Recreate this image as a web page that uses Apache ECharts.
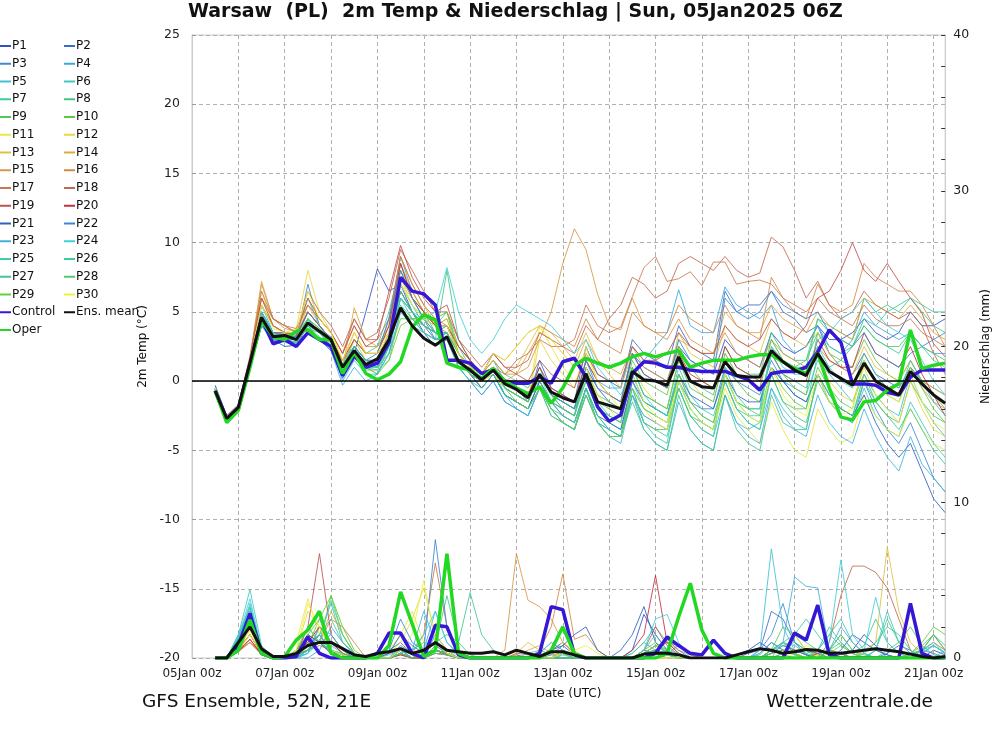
<!DOCTYPE html>
<html><head><meta charset="utf-8">
<script src="https://cdn.jsdelivr.net/npm/echarts@6/dist/echarts.min.js"></script>
<style>html,body{margin:0;padding:0;background:#fff}#c{width:1000px;height:729px}</style>
</head><body><div id="c"></div>
<script>
// ---- tick labels / categories ----
const tickLabels = ['05Jan 00z','07Jan 00z','09Jan 00z','11Jan 00z','13Jan 00z','15Jan 00z','17Jan 00z','19Jan 00z','21Jan 00z'];
// forecast steps: hours after 05Jan 00z, 6-hourly from 05Jan 12z
const hours = Array.from({length: 64}, (_, i) => 12 + 6 * i);

const memberColors = ['#3050c8','#3a6cc8','#3a8ad8','#3aa8e0','#40c0d8','#40c8c0','#40c8a0','#40c880','#50c860','#60c840',
  '#e8e840','#e8d840','#e0c040','#e0a840','#d89848','#d08848','#c87850','#c06850','#c05050','#c03040',
  '#3060c0','#3888d0','#40b0e0','#40d0d8','#40c8b0','#40c8a0','#40c890','#50c870','#60d040','#f0f040'];

// ---- 2m temperature (°C) ----
const tMean = [-0.7,-2.7,-1.9,1.3, 4.6,3.2,3.3,3.0, 4.2,3.6,3.0,1.0, 2.2,1.2,1.6,3.0, 5.3,4.0,3.1,2.6, 3.2,1.4,0.8,0.1, 0.8,-0.2,-0.6,-1.2, 0.5,-0.8,-1.2,-1.5, 0.55,-1.5,-1.75,-2.0, 0.7,0.1,0.0,-0.3, 1.75,0.0,-0.4,-0.5, 1.4,0.4,0.3,0.3, 2.2,1.4,0.8,0.4, 2.0,0.7,0.2,-0.3, 1.3,0.0,-0.5,-1.0, 0.7,-0.2,-1.0,-1.6];
const tControl = [-0.7,-2.8,-2.0,1.2, 4.5,2.7,3.0,2.5, 3.5,3.0,2.5,0.4, 1.8,1.0,1.3,2.8, 7.5,6.5,6.3,5.5, 1.5,1.5,1.3,0.55, 0.8,0.0,-0.15,-0.15, 0.3,-0.15,1.4,1.65, 0.3,-1.85,-2.9,-2.45, 0.55,1.4,1.3,1.0, 1.0,0.8,0.7,0.7, 0.7,0.4,0.1,-0.65, 0.55,0.7,0.7,1.0, 2.1,3.7,2.8,-0.2, -0.2,-0.3,-0.8,-1.0, 0.3,0.8,0.8,0.8];
const tOper = [-0.7,-3.0,-2.1,1.0, 4.4,3.2,3.0,3.6, 3.7,3.0,3.0,0.55, 2.1,0.55,0.1,0.5, 1.4,3.9,4.8,4.4, 1.3,1.0,0.8,0.2, 0.9,0.0,-0.5,-0.9, -0.4,-1.6,-0.5,1.15, 1.65,1.3,1.0,1.3, 1.75,2.0,1.75,2.0, 2.2,1.0,1.3,1.5, 1.5,1.5,1.75,1.9, 1.9,1.4,0.9,0.55, 2.0,-0.5,-2.6,-2.8, -1.5,-1.4,-0.65,-0.2, 3.7,0.9,1.15,1.3];
const tP1 = [-0.3,-2.5,-1.8,1.5, 4.5,3.0,2.5,2.6, 4.0,3.0,2.2,0.2, 2.0,5.0,8.1,6.5, 7.0,5.0,3.5,2.5, 3.0,1.5,0.5,-0.5, 0.5,-1.0,-1.5,-2.0, 0.0,-1.5,-2.0,-2.5, 1.0,-0.5,-1.5,-2.0, 2.0,1.0,0.5,0.0, 2.5,1.5,1.0,0.5, 3.0,2.0,1.5,1.0, 3.5,2.5,2.0,2.5, 4.0,3.0,3.0,3.5, 4.5,3.5,3.0,3.5, 5.0,4.0,4.0,4.5];
const tP2 = [-0.8,-2.9,-2.0,1.0, 4.0,3.0,3.0,2.8, 4.5,3.5,2.5,0.5, 2.5,1.5,1.0,3.0, 6.5,5.0,4.0,3.0, 3.5,2.0,1.0,0.0, 1.0,0.0,-0.5,-1.5, 1.5,-0.5,-1.0,-1.5, 2.5,0.5,0.0,-0.5, 3.0,2.0,1.5,1.0, 4.0,2.5,2.0,1.5, 6.5,5.0,5.5,5.5, 6.5,5.0,4.5,3.5, 4.0,2.0,1.0,0.5, 2.0,0.5,0.0,-0.5, 1.0,0.0,-0.5,-1.0];
const tP3 = [-0.6,-2.6,-1.8,1.4, 5.0,3.5,3.2,3.0, 7.0,4.0,3.0,0.8, 2.0,1.0,1.5,3.5, 8.0,6.0,4.5,3.0, 3.0,1.0,0.0,-1.0, 0.0,-1.5,-2.0,-2.5, -0.5,-2.0,-3.0,-3.5, -1.0,-3.0,-3.5,-4.0, -1.0,-2.5,-3.0,-3.5, 0.0,-1.5,-2.0,-2.0, 1.0,0.0,-0.5,-1.0, 1.5,0.0,-1.0,-1.5, 0.5,-1.5,-2.5,-3.0, 0.0,-2.0,-3.5,-4.5, -3.0,-5.0,-7.0,-8.0];
const tP4 = [-0.4,-2.5,-1.7,1.6, 5.5,3.5,3.4,3.2, 6.0,4.0,3.0,1.2, 3.0,2.0,2.0,4.5, 9.0,6.5,5.0,3.5, 4.0,2.0,1.0,0.5, 1.5,0.0,-0.5,-1.0, 1.0,-1.0,-1.5,-2.0, 1.5,0.0,-0.5,-0.5, 2.5,1.5,2.5,3.5, 6.6,4.0,3.5,3.5, 6.8,5.5,5.0,4.5, 5.5,3.0,2.0,2.5, 4.0,2.5,2.0,3.0, 5.0,4.0,3.5,3.0, 3.5,2.5,2.0,2.0];
const tP5 = [-0.9,-3.0,-2.2,0.9, 4.0,2.8,3.0,2.8, 3.5,3.0,2.5,0.0, 1.5,0.5,0.5,2.0, 6.0,5.0,4.0,3.5, 4.0,2.0,1.0,0.0, 1.0,-1.0,-2.0,-2.5, -0.5,-2.5,-3.0,-3.5, -0.5,-3.0,-3.5,-4.0, 0.0,-2.0,-2.5,-3.0, -0.5,-2.5,-3.5,-4.0, -1.0,-3.0,-3.5,-3.0, 1.0,0.0,-0.5,-1.0, 1.5,0.5,-0.5,-1.5, 0.5,-1.0,-2.0,-2.5, 0.5,-1.5,-3.0,-4.0];
const tP6 = [-0.5,-2.6,-1.9,1.2, 5.5,4.0,3.5,3.4, 4.5,3.8,3.2,1.5, 2.5,1.5,1.2,3.0, 7.0,5.5,4.5,3.5, 3.5,1.5,0.5,0.0, 1.0,-0.5,-1.0,-1.5, 0.5,-1.0,-1.5,-2.0, 0.5,-2.0,-2.5,-3.0, 0.5,-1.5,-2.0,-2.5, 1.0,-1.0,-2.0,-2.5, 0.0,-2.0,-3.0,-3.5, -0.5,-2.0,-3.0,-3.5, 0.5,-1.5,-2.5,-3.0, -0.5,-2.5,-3.5,-4.0, -1.5,-3.0,-4.5,-5.5];
const tP7 = [-0.7,-2.8,-2.0,1.1, 4.8,3.5,3.0,3.2, 5.0,4.0,3.0,1.0, 3.0,2.0,2.5,5.0, 8.5,6.0,4.5,4.0, 5.0,2.5,1.0,0.5, 1.5,0.5,0.0,-0.5, 1.0,-1.0,-1.5,-2.0, 0.0,-2.0,-3.0,-3.5, -0.5,-3.0,-3.5,-4.0, -0.5,-2.5,-3.5,-4.0, 0.5,-1.5,-2.0,-2.0, 2.5,1.5,1.0,1.5, 3.5,2.5,2.0,2.5, 4.0,3.0,2.5,2.0, 3.5,2.5,1.5,1.0];
const tP8 = [-0.6,-2.7,-1.9,1.3, 4.2,3.0,3.3,3.0, 3.8,3.5,3.0,1.5, 2.5,1.0,0.5,2.5, 5.5,4.5,3.5,3.0, 8.0,3.0,1.5,0.5, 1.0,0.0,-0.5,-1.0, 0.5,-1.0,-2.0,-2.5, 0.5,-1.5,-2.5,-3.0, 1.0,-1.0,-1.5,-2.0, 1.5,0.0,-0.5,-1.0, 2.5,1.0,0.5,0.5, 3.5,2.0,1.5,1.5, 4.5,4.0,3.5,3.0, 6.0,5.0,5.5,5.0, 6.0,5.0,4.0,3.5];
const tP9 = [-0.8,-2.9,-2.1,1.0, 4.4,3.2,3.0,2.7, 4.2,3.5,2.8,1.0, 2.2,1.2,1.0,2.0, 4.5,4.5,4.0,3.5, 3.0,1.5,0.5,0.0, 0.5,-1.0,-1.5,-2.0, -0.5,-2.5,-3.0,-3.5, -0.5,-3.0,-4.0,-4.0, -1.0,-3.0,-3.5,-3.5, -0.5,-2.5,-3.0,-3.5, 0.0,-2.0,-2.5,-3.0, 0.5,-1.5,-2.5,-3.0, 0.0,-1.5,-2.0,-2.5, 0.5,-1.5,-2.5,-3.0, 0.0,-1.5,-2.5,-3.0];
const tP10 = [-0.7,-2.8,-2.0,1.2, 4.6,3.3,3.2,3.1, 4.0,3.0,2.8,1.2, 2.0,1.0,0.8,1.5, 5.0,4.5,4.5,4.0, 4.5,2.0,1.0,0.0, 1.0,-0.5,-1.0,-1.5, 0.5,-1.0,-1.5,-2.0, 1.0,-1.0,-1.5,-2.0, 1.5,0.0,-0.5,-1.0, 2.5,1.0,0.0,-0.5, 1.5,0.0,-1.0,-1.5, 2.0,0.5,-0.5,-1.0, 3.5,2.0,1.5,1.0, 3.0,1.5,0.5,0.0, 1.5,0.0,-1.0,-2.0];
const tP11 = [-0.5,-2.6,-1.8,1.5, 6.0,4.0,3.5,3.5, 6.0,4.5,3.5,1.5, 3.0,2.0,2.0,4.0, 7.5,5.5,4.5,3.5, 3.0,1.5,0.5,0.0, 0.5,-0.5,-1.0,-1.5, 4.0,2.5,1.0,0.0, 1.0,-1.0,-2.0,-3.0, -0.5,-2.0,-3.0,-3.5, 0.0,-2.0,-3.0,-3.5, -0.5,-2.5,-3.5,-4.5, -1.5,-3.5,-5.0,-5.5, -2.0,-3.5,-4.5,-4.0, -1.0,-2.5,-3.5,-4.0, -2.0,-3.5,-4.5,-5.0];
const tP12 = [-0.6,-2.7,-1.9,1.4, 6.5,4.0,3.5,3.8, 8.0,5.0,3.5,1.5, 3.5,2.0,2.0,4.0, 7.0,6.0,5.0,4.5, 5.0,2.0,0.5,-0.5, 0.5,-0.5,-1.0,-1.5, 3.0,1.5,0.5,-0.5, 2.5,0.0,-1.0,-1.5, 1.0,-0.5,-1.5,-2.0, 1.5,0.0,-1.0,-1.5, 2.0,0.5,0.0,-0.5, 3.0,1.5,1.0,0.5, 2.0,0.0,-1.0,-1.5, 1.0,-1.0,-2.0,-3.0, 0.0,-2.0,-3.5,-4.0];
const tP13 = [-0.7,-2.8,-2.0,1.0, 5.0,3.5,3.2,3.0, 5.5,4.0,3.0,1.0, 3.0,1.5,1.5,3.5, 8.0,6.5,5.0,4.0, 4.5,2.5,1.5,0.5, 1.5,0.5,1.0,2.5, 4.0,3.5,2.5,1.5, 3.5,1.5,0.5,-0.5, 2.0,0.5,0.0,-0.5, 3.5,2.0,1.5,1.0, 4.0,3.0,2.5,2.0, 4.5,3.5,3.0,2.5, 3.5,2.0,1.0,0.5, 2.5,1.0,0.5,0.0, 1.5,0.0,-0.5,-1.0];
const tP14 = [-0.5,-2.6,-1.8,1.7, 7.2,4.5,4.0,3.5, 5.0,4.0,3.0,1.0, 5.3,3.0,2.5,4.0, 9.0,7.0,5.5,4.0, 4.0,2.0,1.0,0.0, 1.0,0.0,0.5,2.0, 3.5,3.0,2.0,1.0, 3.0,1.5,1.0,0.5, 2.5,1.0,0.5,0.0, 3.0,2.5,2.0,2.0, 5.0,4.0,3.5,3.5, 5.5,4.5,4.0,3.5, 5.0,4.0,3.5,3.0, 6.0,5.5,5.0,4.5, 5.5,4.5,3.5,3.0];
const tP15 = [-0.6,-2.7,-1.9,1.5, 7.0,4.5,3.8,3.6, 5.5,4.5,3.5,2.0, 4.0,2.5,2.5,3.5, 8.5,6.5,5.0,4.0, 4.0,2.5,1.5,0.5, 1.5,0.5,0.5,1.0, 3.0,5.0,8.5,11.0, 9.5,6.3,4.0,3.7, 6.0,4.0,3.5,3.0, 4.5,3.0,2.5,2.0, 3.5,2.0,1.5,1.0, 3.0,2.0,1.5,1.0, 2.5,1.5,1.0,0.5, 1.5,0.0,-0.5,-1.0, 1.0,-0.5,-1.5,-2.0];
const tP16 = [-0.8,-2.9,-2.1,1.0, 5.5,4.0,3.5,3.0, 5.0,4.0,3.0,1.5, 3.5,2.0,2.0,3.0, 7.5,6.0,5.0,4.0, 3.5,2.0,1.0,0.5, 2.0,1.5,2.5,3.5, 4.0,3.5,3.0,2.5, 4.5,3.0,2.5,2.0, 5.0,4.0,3.5,3.5, 5.5,4.5,4.0,3.5, 5.5,4.0,3.5,3.0, 7.5,6.0,5.0,4.5, 7.0,5.5,5.0,5.5, 8.5,7.5,7.0,6.5, 6.5,5.5,4.0,2.5];
const tP17 = [-0.5,-2.5,-1.7,1.8, 6.5,4.5,4.0,3.8, 5.5,4.5,3.5,2.0, 4.5,3.0,3.0,4.5, 9.0,7.0,5.5,4.5, 4.0,2.0,1.0,0.5, 1.0,0.5,1.5,2.0, 3.0,2.5,2.5,3.0, 5.5,4.0,3.5,3.9, 6.1,8.2,9.0,7.2, 7.4,7.9,6.9,8.6, 8.6,7.0,7.2,7.3, 7.0,6.0,5.5,5.0, 6.0,5.0,4.5,4.0, 5.5,4.5,4.0,4.0, 4.5,3.5,3.0,2.5];
const tP18 = [-0.6,-2.7,-1.9,1.5, 6.0,4.5,4.0,3.5, 6.5,5.0,4.0,2.5, 4.5,3.0,3.5,6.0, 9.5,8.0,6.5,5.0, 5.0,3.0,2.0,1.0, 2.0,1.0,1.0,1.5, 3.5,3.0,2.5,2.0, 4.0,3.0,4.5,5.5, 7.5,7.0,6.0,6.5, 8.5,9.0,8.5,8.0, 9.0,8.0,7.5,7.8, 10.4,9.7,8.0,6.0, 7.2,5.5,4.5,5.0, 6.5,5.5,5.0,4.5, 5.0,4.0,2.0,0.5];
const tP19 = [-0.7,-2.6,-1.8,1.6, 6.0,4.0,3.5,3.5, 6.0,4.5,3.5,2.0, 4.0,2.5,3.0,6.5, 9.8,7.5,6.0,5.0, 5.5,3.0,1.5,0.5, 2.0,1.0,0.5,0.0, 1.5,0.5,0.0,-0.5, 2.0,0.5,0.0,0.0, 2.5,1.5,1.5,2.0, 3.5,2.5,2.0,2.0, 4.0,3.0,2.5,3.0, 4.5,3.5,3.0,4.0, 6.0,6.5,8.0,10.0, 8.0,7.2,8.5,7.2, 6.0,4.9,2.7,1.75];
const tP20 = [-0.6,-2.8,-2.0,1.2, 5.0,3.5,3.5,3.3, 5.0,4.0,3.0,1.5, 3.0,2.0,2.0,4.0, 8.5,6.0,5.0,4.0, 4.0,2.5,1.5,0.5, 1.0,0.0,-0.5,-1.0, 1.0,-0.5,-1.0,-1.5, 1.5,0.0,-1.0,-1.5, 2.0,0.5,0.0,-0.5, 2.0,0.5,0.0,-0.5, 2.5,1.0,0.5,0.0, 2.0,0.5,0.0,0.0, 3.0,1.5,1.0,1.0, 3.5,2.0,1.5,1.0, 2.5,0.5,-1.0,-2.5];
const tP21 = [-0.7,-2.7,-1.9,1.3, 4.5,3.2,3.0,3.0, 4.5,3.5,2.8,1.0, 2.5,1.5,1.5,3.0, 6.5,5.0,4.0,3.5, 3.5,1.5,0.5,-0.5, 0.5,-1.0,-1.5,-2.0, 0.0,-1.5,-2.5,-3.0, -0.5,-2.5,-3.0,-3.5, 0.0,-1.5,-2.0,-2.5, 0.5,-1.0,-1.5,-2.0, 0.5,-1.0,-1.5,-1.5, 1.0,0.0,-1.0,-1.5, 0.5,-1.0,-2.0,-2.5, -1.0,-3.0,-4.5,-5.5, -4.5,-6.5,-8.5,-9.5];
const tP22 = [-0.6,-2.6,-1.8,1.4, 5.0,3.5,3.3,3.2, 5.0,4.0,3.0,1.0, 2.5,1.5,2.0,4.5, 8.0,6.0,4.5,3.5, 3.0,1.5,0.5,0.0, 1.0,-0.5,-1.0,-1.5, 0.5,-1.0,-1.5,-2.0, 1.5,-0.5,-1.0,-1.5, 2.0,0.5,0.0,-0.5, 3.0,1.5,1.0,0.5, 6.0,5.0,4.5,5.0, 6.5,5.5,5.0,4.5, 5.0,3.5,3.0,2.5, 3.5,2.0,1.5,1.0, 2.0,2.5,3.0,3.5];
const tP23 = [-0.8,-3.0,-2.2,0.9, 4.0,3.0,2.8,2.6, 3.5,3.0,2.2,-0.3, 1.0,0.0,0.5,2.0, 5.0,4.0,3.5,3.0, 3.5,1.0,0.0,-1.0, 0.0,-1.5,-2.0,-2.5, -0.5,-2.0,-3.0,-3.5, -1.0,-3.0,-4.0,-4.5, -1.0,-3.5,-4.5,-5.0, -1.5,-3.5,-4.5,-5.0, -1.0,-3.0,-4.0,-4.5, -0.5,-2.5,-3.5,-4.0, -1.0,-3.0,-4.0,-4.5, -2.0,-4.0,-5.5,-6.5, -4.0,-6.0,-7.0,-8.0];
const tP24 = [-0.5,-2.6,-1.8,1.5, 5.0,3.5,3.0,2.8, 4.5,3.5,2.5,0.5, 2.0,1.0,1.0,2.5, 6.0,5.0,4.5,5.0, 8.2,5.0,3.0,2.0, 3.0,4.5,5.5,5.0, 4.5,4.0,3.0,2.0, 3.0,1.0,0.0,-1.0, 1.0,-1.0,-2.0,-2.5, 0.0,-2.0,-3.0,-3.5, 0.5,-1.5,-2.5,-2.5, 2.5,1.0,0.5,0.5, 3.0,3.5,4.5,5.0, 6.0,5.0,4.0,3.5, 3.0,1.5,0.0,-1.0];
const tP25 = [-0.7,-2.9,-2.1,1.0, 4.4,3.0,2.9,2.8, 4.0,3.2,2.5,0.5, 1.8,0.8,0.8,2.5, 6.0,4.5,3.5,3.0, 3.0,1.0,0.0,-0.5, 0.5,-1.0,-1.5,-2.0, -0.5,-2.0,-2.5,-3.0, -0.5,-2.5,-3.5,-4.0, -0.5,-3.0,-4.0,-4.5, 0.0,-2.0,-3.0,-3.5, 1.0,-1.0,-2.0,-2.0, 2.0,0.5,0.0,-0.5, 2.5,1.0,0.0,-0.5, 2.0,0.5,-0.5,-1.0, 1.5,0.0,-1.5,-2.5];
const tP26 = [-0.6,-2.7,-1.9,1.3, 4.8,3.4,3.2,3.0, 4.5,3.5,3.0,1.2, 2.5,1.5,1.5,3.0, 7.0,5.5,4.0,3.5, 3.5,1.5,0.5,0.0, 1.0,-0.5,-1.0,-1.5, 0.5,-1.5,-2.0,-2.5, 0.0,-2.0,-2.5,-3.0, 0.5,-1.5,-2.0,-2.5, 0.5,-1.5,-2.5,-3.0, 0.0,-2.0,-3.0,-3.5, 0.5,-1.5,-2.0,-2.0, 2.0,1.0,1.5,2.5, 4.5,4.0,5.0,5.5, 6.0,5.5,5.0,5.0];
const tP27 = [-0.8,-2.8,-2.0,1.1, 4.5,3.2,3.0,3.0, 4.0,3.5,3.0,1.0, 2.0,1.0,1.0,2.5, 6.0,5.0,4.0,3.5, 3.5,2.0,1.0,0.0, 1.0,0.0,-0.5,-1.0, 0.0,-1.5,-2.5,-3.0, -0.5,-2.5,-3.5,-4.0, -1.5,-3.5,-4.5,-5.0, -1.0,-3.5,-4.5,-5.0, -1.0,-3.5,-4.5,-5.0, -1.0,-3.0,-3.5,-3.5, 0.5,-1.0,-2.0,-2.5, 0.0,-1.5,-2.5,-3.5, -2.0,-3.5,-5.0,-6.0];
const tP28 = [-0.7,-2.7,-1.9,1.2, 4.5,3.3,3.1,3.0, 4.3,3.5,2.8,1.2, 2.2,1.2,1.2,2.8, 6.5,5.0,4.0,3.5, 3.5,1.5,0.5,0.0, 1.0,-0.5,-1.0,-1.5, 0.5,-1.0,-2.0,-2.5, 0.5,-1.5,-2.0,-2.5, 1.0,-1.0,-1.5,-2.0, 1.5,-0.5,-1.0,-1.5, 2.0,0.5,0.0,-0.5, 3.0,1.5,1.0,1.0, 4.5,3.5,3.0,2.5, 4.0,3.0,2.5,2.5, 3.5,2.5,2.0,1.5];
const tP29 = [-0.6,-2.8,-2.0,1.2, 4.7,3.3,3.2,3.1, 4.5,3.8,3.0,1.0, 2.0,1.0,0.5,1.5, 4.0,4.5,4.5,4.5, 5.0,2.0,1.0,0.5, 1.0,-0.5,-1.5,-2.0, -0.5,-2.0,-3.0,-3.5, -1.0,-3.0,-4.0,-4.0, -0.5,-2.0,-2.5,-3.0, 0.5,-1.5,-2.5,-3.0, 0.5,-1.5,-2.0,-2.5, 1.0,-0.5,-1.5,-2.0, 1.0,-0.5,-1.5,-2.0, 1.5,0.0,-1.0,-1.5, 1.0,-0.5,-2.0,-3.0];
const tP30 = [-0.5,-2.6,-1.8,1.5, 5.5,3.8,3.5,3.5, 6.5,4.5,3.5,1.5, 3.5,2.0,2.0,3.5, 7.0,5.5,4.5,4.0, 4.0,2.0,1.0,0.5, 2.0,1.5,2.5,3.5, 4.0,3.0,2.0,1.0, 2.0,0.0,-1.0,-2.0, 0.5,-1.5,-2.5,-3.0, 0.0,-2.0,-3.0,-3.5, 0.5,-1.5,-2.5,-3.0, 1.0,-1.0,-2.0,-2.5, 0.5,-1.5,-2.5,-2.0, 1.5,0.0,-1.0,-1.5, 0.5,-1.5,-3.0,-3.5];

// ---- precipitation (mm) ----
const pMean = [0,0,1.0,2.0, 0.6,0.1,0.1,0.3, 0.8,1.0,1.0,0.6, 0.2,0.1,0.3,0.4, 0.6,0.3,0.5,1.0, 0.5,0.4,0.3,0.3, 0.4,0.2,0.5,0.3, 0.1,0.4,0.4,0.2, 0,0,0,0, 0,0.25,0.3,0.3, 0.2,0,0,0, 0,0.2,0.4,0.6, 0.5,0.3,0.4,0.55, 0.5,0.3,0.3,0.4, 0.5,0.6,0.5,0.4, 0.25,0.1,0,0.1];
const pControl = [0,0,0.8,2.85, 0.3,0,0,0.1, 1.35,0.3,0,0, 0,0,0.3,1.6, 1.6,0.3,0,2.1, 2.0,0.2,0,0, 0,0,0,0, 0.3,3.3,3.1,0.2, 0,0,0,0, 0,0,0.3,1.35, 0.8,0.3,0.2,1.15, 0.3,0,0,0, 0,0,1.6,1.15, 3.4,0.2,0,0, 0,0,0,0, 3.5,0.3,0,0];
const pOper = [0,0,0.5,2.45, 0.3,0,0.1,1.15, 1.8,3.0,0.3,0, 0,0,0,0.8, 4.25,2.2,0.1,0.5, 6.7,0.3,0,0, 0,0,0,0, 0,0.5,2.0,0.3, 0,0,0,0, 0,0,0,0.3, 2.65,4.8,1.8,0.3, 0,0,0,0, 0,0,0,0, 0,0,0,0, 0,0,0,0, 0,0,0,0];
const pP1 = [0,0,1.2,2.5, 0.5,0,0,0.2, 0.8,1.5,0.5,0.2, 0,0,0,0.3, 0.5,0,0,0.8, 0.3,0,0,0, 0,0,0.2,0, 0,0.5,1.0,0.3, 0,0,0,0, 0.5,2.8,1.5,0.5, 0,0,0,0, 0,0.2,0.5,1.0, 0.5,0.2,0,0, 0,0,0,0.5, 1.5,0.8,0,0, 0,0,0.5,0.2];
const pP2 = [0,0,0.8,2.0, 0.3,0,0,0, 0.5,1.0,0.3,0, 0,0,0,0.5, 1.0,0.2,0,0.5, 0.2,0,0,0, 0,0,0,0, 0,0.2,0.8,0.2, 0,0,0,0, 0,0.5,0.3,0, 0,0,0,0, 0,0,0.3,0.5, 3.0,2.5,1.0,0.5, 0.2,0,0,0, 0,0,0.3,0.8, 0.5,0,0,0];
const pP3 = [0,0,1.0,3.0, 0.5,0,0,0, 0.3,2.0,1.0,0.3, 0,0,0,0, 0.8,0.3,0,1.5, 0.5,0,0,0, 0,0,0,0, 0,0,0.5,0.2, 0,0,0,0, 0,0,0.5,1.2, 0.5,0,0,0, 0,0,0,0.5, 1.5,3.5,1.0,0.2, 0,0,0,0, 0,0,0,0, 0,0.5,1.5,0.5];
const pP4 = [0,0,1.5,3.2, 0.6,0,0,0, 0,0.5,2.0,1.0, 0.2,0,0,0, 0.3,0,0.5,3.0, 1.0,0.2,0,0, 0,0,0,0, 0,0,0.3,0, 0,0,0,0, 0,0,0,0.3, 0.8,0.2,0,0, 0,0,0,0, 0.5,1.0,0.3,0, 0,0.5,2.0,1.0, 0.3,0,0,0, 0,0,0,0];
const pP5 = [0,0,1.2,3.5, 0.5,0,0,0.2, 0.5,1.0,0.8,0.3, 0,0,0,0.2, 0.5,0,0.3,1.0, 0.5,0.2,0,0, 0,0,0,0, 0,0,0.2,0, 0,0,0,0, 0,0.3,0.5,0.2, 0,0,0,0, 0,0,0,0.5, 7.0,2.0,0.5,0.2, 0,0,0,0, 0,0.5,0.2,0, 0,0.3,0.8,0.3];
const pP6 = [0,0,1.5,4.4, 0.8,0,0,0, 0.3,1.2,0.5,0, 0,0,0,0, 0.3,0,0,0.5, 0.3,0,0,0, 0,0,0,0, 0,0,0.3,0.2, 0,0,0,0, 0.3,1.0,2.0,1.0, 0.3,0,0,0, 0,0,0,0, 0.5,1.0,0.8,0.3, 0.5,1.5,0.8,0.3, 0,0,0,0, 0,0,0,0.5];
const pP7 = [0,0,1.3,3.0, 0.5,0,0,0.3, 1.0,1.5,3.5,1.0, 0.3,0,0,0, 0.5,0.3,0,0.5, 0.3,0,0,0, 0,0,0,0, 0,0,0,0, 0,0,0,0, 0,0.5,1.5,0.5, 0,0,0,0, 0,0,0,0, 0.3,0.5,0.2,0, 0.5,2.0,1.0,0.3, 0,0.5,2.5,1.0, 0.3,0,0,0];
const pP8 = [0,0,1.0,2.8, 0.5,0,0,0, 0.5,2.0,1.5,0.5, 0,0,0,0, 0.3,0,0,0.8, 4.0,1.0,0.2,0, 0,0,0,0, 0,0.3,0.5,0, 0,0,0,0, 0,0.3,0.8,0.3, 0,0,0,0, 0,0,0,0.2, 1.0,0.5,0.2,0, 0,0.5,1.0,0.3, 0.8,2.5,1.0,0.3, 0,0,0,0];
const pP9 = [0,0,0.8,2.2, 0.3,0,0,0.3, 0.8,2.5,1.0,0.3, 0,0,0,0, 0.5,0.2,0,0.3, 0.2,0,0,0, 0,0,0,0, 0,0,0,0, 0,0,0,0, 0,0,0.3,0.2, 0,0,0,0, 0,0,0,0, 0.5,2.0,1.5,0.5, 0.2,0,0,0, 0,0,0.5,1.0, 2.0,0.8,0.2,0];
const pP10 = [0,0,0.9,2.5, 0.4,0,0,0.5, 1.5,1.0,4.0,2.0, 0.5,0,0,0, 0.3,0,0,0.5, 0.3,0,0,0, 0,0,0,0, 0,0,0,0, 0,0,0,0, 0,0,0.5,0.3, 0,0,0,0, 0,0,0,0, 0.5,1.0,0.5,0.2, 0,0.5,1.5,0.5, 0.2,0,0,0, 0.3,0.8,1.5,0.5];
const pP11 = [0,0,0.5,1.5, 0.3,0,0,1.0, 3.8,1.5,0.5,0.2, 0,0,0,0.5, 1.5,3.0,1.0,0.3, 0.2,0,0,0, 0,0,0,0, 0,0.3,1.0,0.5, 0,0,0,0, 0,0,0,0, 0,0,0,0, 0,0,0,0, 0,0,0,0, 0.2,0.5,0.3,0, 0,0,0,0, 0,0,0,0];
const pP12 = [0,0,0.6,1.8, 0.3,0,0,0.5, 3.0,2.0,0.5,0, 0,0,0,0.3, 1.0,2.5,4.5,1.5, 0.5,0,0,0, 0,0,0,0, 0,0,0.5,0.2, 0,0,0,0, 0,0,0,0, 0,0,0,0, 0,0,0,0, 0,0.3,1.5,0.5, 0.2,0,0,0, 0,0,0,0, 0,0,0,0];
const pP13 = [0,0,0.7,1.5, 0.3,0,0,0.3, 2.0,1.0,0.5,0, 0,0,0,0, 0.5,0.3,0,0.5, 0.3,0,0,0, 0,0,0.3,1.0, 0.5,0.2,0.3,0, 0,0,0,0, 0,0,0.5,0.3, 0,0,0,0, 0,0,0,0, 0.3,0.5,0.3,0, 0.3,0.5,0.3,0, 0.5,1.0,7.1,3.0, 1.0,0.3,0,0];
const pP14 = [0,0,0.5,1.2, 0.3,0,0,0.3, 1.5,1.0,3.0,1.5, 0.3,0,0,0, 0.3,0,0,0.5, 0.3,0,0,0, 0,0,0.2,0.5, 0.8,0.3,0,0, 0,0,0,0, 0,0,0.3,0.2, 0,0,0,0, 0,0,0,0, 0,0,0,0, 0.3,0.5,0.3,0, 0,0,0,0, 0,0,0,0];
const pP15 = [0,0,0.6,1.5, 0.3,0,0,0.2, 1.0,2.0,1.0,0.3, 0,0,0,0, 0.3,0,0,0.5, 0.3,0,0,0, 0,0.5,6.7,3.7, 3.3,2.5,1.0,0.3, 0,0,0,0, 0,0,0.5,0.3, 0,0,0,0, 0,0,0,0, 0.3,0.5,0.3,0, 0,0,0,0, 0,0,0,0, 0,0,0,0];
const pP16 = [0,0,0.5,1.0, 0.2,0,0,0.5, 1.5,1.0,2.5,2.0, 1.0,0,0,0, 0.3,0,0,0.3, 0.2,0,0,0, 0,0,0,0, 0.5,2.0,5.4,1.2, 1.5,0.5,0,0, 0,0.3,0.8,1.0, 0.5,0.2,0,0, 0,0,0,0, 0,0,0,0, 0,0,0,0, 0,0,0,0, 0,0.5,1.0,0.5];
const pP17 = [0,0,0.4,1.0, 0.3,0,0,0.3, 0.5,0.8,0.5,0.2, 0,0,0,0, 0.5,0.3,1.5,6.1, 2.0,0.3,0,0, 0,0,0.3,0.2, 0,0,0,0, 0,0,0,0, 0,0,0.5,1.0, 0.8,0.3,0,0, 0,0,0,0, 0,0.3,0.5,0.5, 0.3,0,0,0, 0,0,0,0, 0,0,0,0];
const pP18 = [0,0,0.5,1.2, 0.3,0,0,0.2, 0.5,1.0,0.5,0.2, 0,0,0,0, 0.2,0,0,0.3, 0.2,0,0,0, 0,0,0,0, 0,0,0.3,0.2, 0,0,0,0, 0,0,0,0.3, 0.3,0,0,0, 0,0,0,0, 0,0,0,0, 0,1.0,4.0,5.9, 5.9,5.5,4.5,2.5, 0.5,0,0,0];
const pP19 = [0,0,0.5,1.5, 0.3,0,0,0.2, 2.0,6.7,1.5,0.5, 0,0,0,0, 0.3,0,0,0.5, 0.2,0,0,0, 0,0,0,0, 0,0,0,0, 0,0,0,0, 0,0.5,2.0,0.8, 0.2,0,0,0, 0,0,0,0, 0,0,0,0, 0,0,0,0, 0,0,0,0, 0,0,0,0];
const pP20 = [0,0,0.4,1.2, 0.2,0,0,0.3, 1.0,2.0,1.0,0.3, 0,0,0,0, 0.2,0,0,0.5, 0.3,0,0,0, 0,0,0,0, 0,0,0,0, 0,0,0,0, 0.5,1.5,5.3,1.0, 0.3,0,0,0, 0,0,0,0, 0,0,0,0, 0.3,0.5,0.3,0, 0,0,0,0, 0,0,0,0];
const pP21 = [0,0,1.0,2.0, 0.4,0,0,0.3, 1.5,1.0,0.3,0, 0,0,0,0.3, 1.5,0.8,0.3,0.5, 0.3,0,0,0, 0,0,0,0, 0,0.5,0.8,1.5, 2.0,0.5,0,0.5, 1.5,3.3,1.0,0.3, 0,0,0,0, 0,0,0,0, 0.3,0.8,0.5,0.2, 0,0,0.5,1.5, 1.0,0.5,0.2,0, 0,0,0,0];
const pP22 = [0,0,0.8,2.0, 0.3,0,0,0.2, 0.5,1.5,0.5,0, 0,0,0,0.5, 2.5,1.0,0.5,7.6, 2.0,0.3,0,0, 0,0,0,0, 0.3,1.0,0.5,0.2, 0,0,0,0, 0,0.3,0.5,0.3, 0,0,0,0, 0,0,0,0.3, 1.0,0.5,0.3,0.5, 0.3,0,0,0, 0,0,0,0, 0.2,0.5,0.3,0];
const pP23 = [0,0,1.2,3.0, 0.5,0,0,0, 0.5,1.0,1.5,0.5, 0,0,0,0, 0.3,0.5,3.0,1.0, 0.3,0,0,0, 0,0,0,0, 0,0,0,0, 0,0,0,0, 0,0,0.3,0.2, 0,0,0,0, 0,0,0,0, 0,1.0,5.2,4.6, 4.5,0.5,0,0, 0,0,0,0, 0,0.3,0.8,0.3];
const pP24 = [0,0,1.4,3.8, 0.6,0,0,0, 0.3,1.0,3.7,1.5, 0.3,0,0,0, 0.3,0.5,1.5,3.0, 1.0,0.3,0,0, 0,0,0,0.3, 0.5,0.2,0,0, 0,0,0,0, 0,0.5,2.5,2.8, 1.0,0,0,0, 0,0,0,0, 0,0,0,0, 0,1.0,6.3,1.5, 0.5,3.9,1.0,0.3, 0,0,0,0];
const pP25 = [0,0,1.1,2.6, 0.4,0,0,0, 0.5,1.0,0.5,0.2, 0,0,0,0, 0.5,0.3,0,0.3, 0.2,0,0,0, 0,0,0,0, 0,0,0,0, 0,0,0,0, 0,0,0.3,0.5, 0.3,0,0,0, 0,0,0,0, 0,0.3,1.5,2.5, 1.5,0.5,0.3,0, 0,0.5,3.0,1.0, 0.3,0.5,0.8,0.3];
const pP26 = [0,0,1.3,3.3, 0.5,0,0,0.2, 0.5,1.5,2.5,1.0, 0.3,0,0,0, 0.3,0.5,1.0,0.8, 0.3,0,0,0, 0,0,0,0, 0,0,0.3,0, 0,0,0,0, 0.3,1.0,0.5,0.2, 0,0,0,0, 0,0,0,0, 0.5,1.0,1.5,1.0, 0.5,1.5,2.5,1.0, 0.3,0,0,0, 0,0.5,1.0,0.3];
const pP27 = [0,0,1.0,2.4, 0.4,0,0,0, 0.5,1.0,0.5,0.2, 0,0,0,0, 0.3,0,0.5,1.0, 1.5,1.0,4.2,1.5, 0.5,0,0,0, 0,0,0,0, 0,0,0,0, 0,0.3,0.5,0.3, 0,0,0,0, 0,0,0,0, 0.5,0.8,1.0,0.5, 0,0,0,0, 0.3,1.0,2.0,1.5, 0.5,0,0,0];
const pP28 = [0,0,0.9,2.6, 0.4,0,0,0.5, 2.0,1.0,0.5,0.3, 0,0,0,0, 0.3,0,0,0.5, 0.3,0,0,0, 0,0,0,0, 0,0,0,0, 0,0,0,0, 0,0.5,1.0,0.5, 0,0,0,0, 0,0,0,0, 0.3,0.5,0.5,0.3, 0,0.5,1.5,0.5, 0,0,0,0, 0,0.5,1.5,0.8];
const pP29 = [0,0,1.0,2.7, 0.4,0,0,0.5, 1.5,2.5,4.0,1.5, 0.3,0,0,0, 0.5,0.3,0,0.5, 0.3,0,0,0, 0,0,0,0, 0,0,0.3,0, 0,0,0,0, 0,0.3,0.8,0.5, 0,0,0,0, 0,0,0,0, 0.3,0.5,0.3,0, 0,0.3,0.8,0.3, 0,0,0,0, 0.3,1.0,2.0,1.5];
const pP30 = [0,0,0.5,1.5, 0.3,0,0,0.5, 3.5,2.0,0.5,0.2, 0,0,0,0, 0.5,1.5,5.0,1.0, 0.3,0,0,0, 0,0,0,0, 0,0,0.3,0.5, 0.8,0.3,0,0, 0,0,0,0, 0,0,0,0, 0,0,0,0, 0,0,0.3,0.8, 0.5,0.3,0,0, 0,0,0,0, 0,0,0,0];

const memberTemps = [tP1,tP2,tP3,tP4,tP5,tP6,tP7,tP8,tP9,tP10,tP11,tP12,tP13,tP14,tP15,tP16,tP17,tP18,tP19,tP20,tP21,tP22,tP23,tP24,tP25,tP26,tP27,tP28,tP29,tP30];
const memberPrecs = [pP1,pP2,pP3,pP4,pP5,pP6,pP7,pP8,pP9,pP10,pP11,pP12,pP13,pP14,pP15,pP16,pP17,pP18,pP19,pP20,pP21,pP22,pP23,pP24,pP25,pP26,pP27,pP28,pP29,pP30];

const FONT = 'DejaVu Sans';
const pairs = arr => arr.map((v, i) => [hours[i], v]);

const series = [{
  type: 'line', data: [], yAxisIndex: 0, silent: true, z: 1,
  markLine: { silent: true, symbol: 'none', label: { show: false }, animation: false,
    lineStyle: { color: '#000', width: 1.5, type: 'solid' }, data: [{ yAxis: 0 }] }
}];

function addPair(name, color, width, temps, precs, z) {
  const common = { name, type: 'line', symbol: 'none', showSymbol: false, silent: true, z,
    lineStyle: { width, color, opacity: width > 1.5 ? 1 : 0.85 }, itemStyle: { color } };
  series.push(Object.assign({}, common, { yAxisIndex: 0, data: pairs(temps) }));
  series.push(Object.assign({}, common, { yAxisIndex: 1, data: pairs(precs) }));
}
memberTemps.forEach((t, i) => addPair('P' + (i + 1), memberColors[i], 1, t, memberPrecs[i], 2));
addPair('Control', '#3418d6', 3.5, tControl, pControl, 3);
addPair('Oper', '#22d822', 3.5, tOper, pOper, 4);
addPair('Ens. mean', '#111111', 3, tMean, pMean, 5);

const oddNames = [], evenNames = [];
for (let i = 1; i <= 30; i++) (i % 2 ? oddNames : evenNames).push('P' + i);
oddNames.push('Control', 'Oper');
evenNames.push('Ens. mean');

const legendBase = { orient: 'vertical', top: 39, icon: 'rect', itemWidth: 11, itemHeight: 2, itemGap: 3.75, padding: 0,
  textStyle: { fontFamily: FONT, fontSize: 12, color: '#111', lineHeight: 14, padding: [0, 0, 0, -4] } };

const dashed = { show: true, lineStyle: { color: '#b0b0b0', width: 1, type: [4, 3] } };

const chart = echarts.init(document.getElementById('c'), null, { renderer: 'canvas' });
chart.setOption({
  animation: false,
  backgroundColor: '#fff',
  grid: { left: 192, right: 46, top: 35, bottom: 71, show: true, borderColor: '#cccccc', borderWidth: 1 },
  legend: [
    Object.assign({}, legendBase, { left: 0, data: oddNames }),
    Object.assign({}, legendBase, { left: 64, data: evenNames })
  ],
  xAxis: {
    type: 'value', min: 0, max: 390, interval: 24,
    name: 'Date (UTC)', nameLocation: 'middle', nameGap: 30,
    nameTextStyle: { fontFamily: FONT, fontSize: 12, color: '#111' },
    axisLine: { show: true, lineStyle: { color: '#cccccc' } },
    axisTick: { show: false },
    axisLabel: { fontFamily: FONT, fontSize: 12, color: '#222', margin: 10, showMaxLabel: false,
      formatter: v => (v % 48 === 0 ? tickLabels[v / 48] : '') },
    splitLine: dashed
  },
  yAxis: [{
    type: 'value', min: -20, max: 25, interval: 5, position: 'left',
    name: '2m Temp (°C)', nameLocation: 'middle', nameGap: 36, nameRotate: 90,
    nameTextStyle: { fontFamily: FONT, fontSize: 12, color: '#111' },
    axisLine: { show: true, lineStyle: { color: '#cccccc' } },
    axisTick: { show: true, inside: true, length: 4, lineStyle: { color: '#999' } },
    axisLabel: { fontFamily: FONT, fontSize: 12.5, color: '#222', margin: 12 },
    splitLine: dashed
  }, {
    type: 'value', min: 0, max: 40, interval: 10, position: 'right',
    name: 'Niederschlag (mm)', nameLocation: 'middle', nameGap: 32, nameRotate: 90,
    nameTextStyle: { fontFamily: FONT, fontSize: 12, color: '#111' },
    axisLine: { show: true, lineStyle: { color: '#cccccc' } },
    axisTick: { show: true, inside: true, length: 4, lineStyle: { color: '#333' } },
    minorTick: { show: true, splitNumber: 5, length: 4, lineStyle: { color: '#333' } },
    axisLabel: { fontFamily: FONT, fontSize: 12.5, color: '#222', margin: 8 },
    splitLine: { show: false }
  }],
  graphic: [
    { type: 'text', left: 188, top: 3, style: { text: 'Warsaw  (PL)  2m Temp & Niederschlag | Sun, 05Jan2025 06Z',
      fontFamily: FONT, fontSize: 19, fontWeight: 'bold', fill: '#111' } },
    { type: 'text', left: 142, top: 693, style: { text: 'GFS Ensemble, 52N, 21E', fontFamily: FONT, fontSize: 18.5, fill: '#111' } },
    { type: 'text', right: 67, top: 693, style: { text: 'Wetterzentrale.de', fontFamily: FONT, fontSize: 18.5, fill: '#111' } }
  ],
  series
});
</script></body></html>
